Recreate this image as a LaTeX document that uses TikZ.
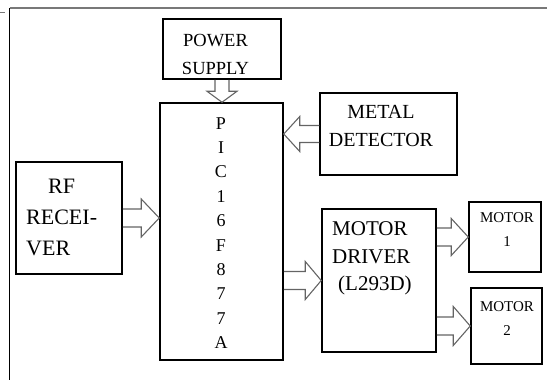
\documentclass[tikz,border=0pt]{standalone}
\usepackage{fontspec}
\setmainfont{Liberation Serif}
\usetikzlibrary{calc}
\definecolor{arrowgray}{RGB}{100,100,100}
\definecolor{framegray}{RGB}{120,120,120}
\tikzset{
  box/.style={draw=black, line width=1.5pt, inner sep=0pt},
  txt/.style={inner sep=0pt, text=black},
  blockarrow/.style={draw=arrowgray, line width=1.1pt, line join=miter}
}
\newcommand{\harrow}[5]{%
  \draw[blockarrow] let \p1=(#1), \p2=(#2) in
    (\x1,{\y2+#3pt}) -- ({\x2-(#5pt)},{\y2+#3pt}) -- ({\x2-(#5pt)},{\y2+#4pt})
    -- (\x2,\y2) -- ({\x2-(#5pt)},{\y2-#4pt}) -- ({\x2-(#5pt)},{\y2-#3pt})
    -- (\x1,{\y2-#3pt});}
\begin{document}
\begin{tikzpicture}[x=1pt,y=-1pt]
\useasboundingbox (0,0) rectangle (547,380);
% frame
\coordinate (fa) at (0,12);
\coordinate (fb) at (5,12);
\coordinate (fc) at (9.5,8);
\coordinate (fd) at (547,8);
\coordinate (fe) at (9.5,380);
\draw[framegray, line width=1pt] (fa) -- (fb);
\draw[framegray, line width=1.5pt] (fc) -- (fd);
\draw[black, line width=1.2pt] (fc) -- (fe);
% boxes
\node[box, minimum width=118pt, minimum height=60pt] (power) at (222,49) {};
\node[box, minimum width=123pt, minimum height=257pt] (pic) at (221.5,231.5) {};
\node[box, minimum width=137pt, minimum height=82pt] (metal) at (388.5,134) {};
\node[box, minimum width=106pt, minimum height=112pt] (rf) at (69,218) {};
\node[box, minimum width=114pt, minimum height=143pt] (driver) at (379,280.5) {};
\node[box, minimum width=72pt, minimum height=70pt] (m1) at (505,237) {};
\node[box, minimum width=71pt, minimum height=76pt] (m2) at (506.5,326) {};
% texts
\node[txt, align=center, font=\fontsize{18.5}{28}\selectfont] (powert) at (215.5,54) {POWER\\SUPPLY};
\node[txt, align=center, font=\fontsize{18}{24.4}\selectfont] (pict) at (221,233) {P\\I\\C\\1\\6\\F\\8\\7\\7\\A};
\node[txt, align=center, font=\fontsize{20}{27.5}\selectfont] (metalt) at (381,126) {METAL\\DETECTOR};
\node[txt, align=left, anchor=west, font=\fontsize{22}{31}\selectfont] (rft) at (26,217.5) {\hspace{22pt}RF\\RECEI-\\VER};
\node[txt, align=left, anchor=west, font=\fontsize{21}{27.5}\selectfont] (drivert) at (332,258.5) {MOTOR\\DRIVER\\\hspace{6pt}(L293D)};
\node[txt, align=center, font=\fontsize{15}{24}\selectfont] (m1t) at (507,230) {MOTOR\\1};
\node[txt, align=center, font=\fontsize{15}{24}\selectfont] (m2t) at (507,319) {MOTOR\\2};
% arrows
\draw[blockarrow] let \p1=(power.south), \p2=(pic.north) in
  ({\x1-7pt},\y1) -- ({\x1-7pt},{\y2+11pt}) -- ({\x1-15pt},{\y2+11pt}) -- (\x1,\y2)
  -- ({\x1+15pt},{\y2+11pt}) -- ({\x1+7pt},{\y2+11pt}) -- ({\x1+7pt},\y1);
\harrow{rf.east}{pic.west |- rf.east}{9}{19}{18}
\harrow{metal.west}{pic.east |- metal.west}{8.5}{17.5}{-16}
\harrow{pic.east |- driver.west}{driver.west}{9}{19}{16}
\harrow{driver.east |- m1.west}{m1.west}{9}{18.5}{17}
\harrow{driver.east |- m2.west}{m2.west}{9}{19.5}{17}
\end{tikzpicture}
\end{document}
